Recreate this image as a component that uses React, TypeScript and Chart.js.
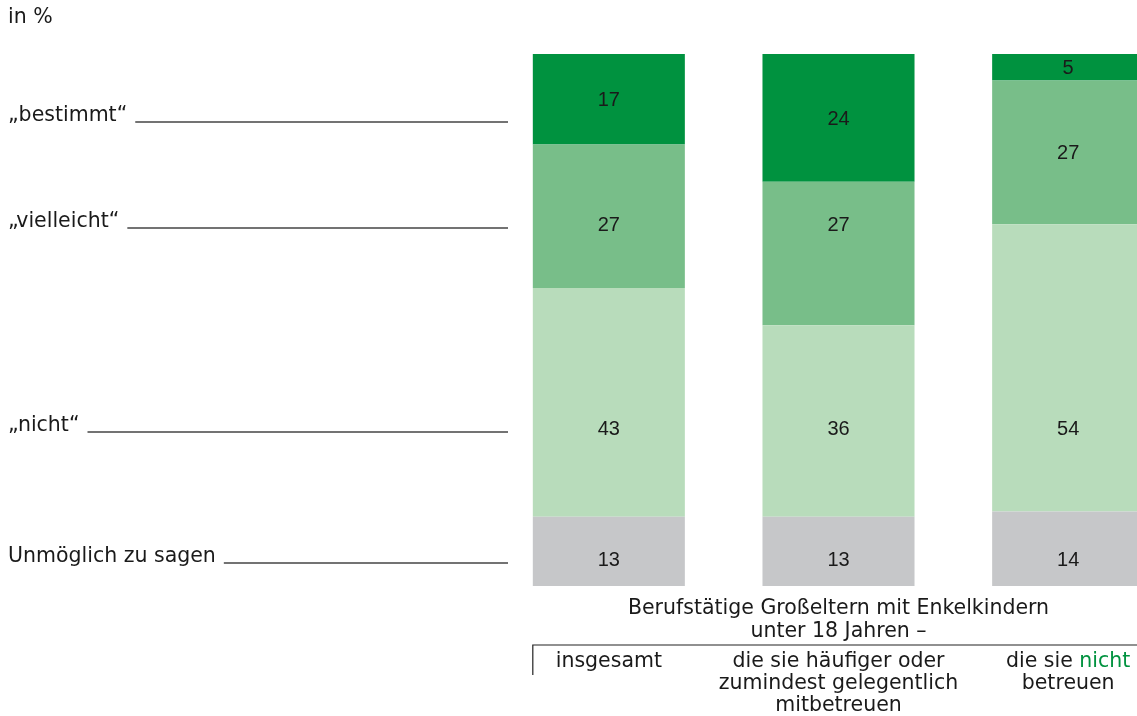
import React, { useEffect, useRef } from "react";
import { Chart, registerables } from "chart.js";

Chart.register(...registerables);

const categories = ["insgesamt", "mitbetreuen", "nicht betreuen"];
const categoryLabelLines: string[][] = [
  ["insgesamt"],
  ["die sie häufiger oder", "zumindest gelegentlich", "mitbetreuen"],
  ["die sie |nicht|", "betreuen"],
];
const seriesNames = ["Unmöglich zu sagen", "„nicht“", "„vielleicht“", "„bestimmt“"];
const unmoeglich = [13, 13, 14];
const nicht = [43, 36, 54];
const vielleicht = [27, 27, 27];
const bestimmt = [17, 24, 5];
const seriesColors = ["#c6c7c9", "#b8dcbb", "#78be89", "#00923f"];
const titleLines = ["Berufstätige Großeltern mit Enkelkindern", "unter 18 Jahren –"];
const unitLabel = "in %";
// y positions of the leader lines of the left-hand legend (layout only)
const legendLineY = [563, 432, 228, 122];

const FONT = "20.5px 'DejaVu Sans', 'Liberation Sans', sans-serif";
const NUM_FONT = "20px 'Liberation Sans Narrow', 'Liberation Sans', sans-serif";
const TEXT = "#1a1a1a";
const GREEN = "#00923f";

const annotations = {
  id: "annotations",
  afterDatasetsDraw(chart: any) {
    const ctx = chart.ctx as CanvasRenderingContext2D;
    ctx.save();
    ctx.font = NUM_FONT;
    ctx.fillStyle = TEXT;
    ctx.textAlign = "center";
    ctx.textBaseline = "middle";
    chart.data.datasets.forEach((ds: any, di: number) => {
      const meta = chart.getDatasetMeta(di);
      meta.data.forEach((el: any, i: number) => {
        const v = ds.data[i];
        const top = Math.min(el.y, el.base);
        const bottom = Math.max(el.y, el.base);
        const anchor = legendLineY[di] - 4;
        let y = (top + bottom) / 2;
        if (anchor >= top + 27 && anchor <= bottom - 27) y = anchor;
        ctx.fillText(String(v), el.x, y + 1);
      });
    });
    ctx.restore();
  },
  afterDraw(chart: any) {
    const ctx = chart.ctx as CanvasRenderingContext2D;
    const xs = chart.scales.x;
    ctx.save();
    ctx.font = FONT;
    ctx.fillStyle = TEXT;
    ctx.textBaseline = "middle";
    ctx.textAlign = "left";
    ctx.fillText(unitLabel, 8, 18);

    // left legend with leader lines
    const lineEnd = 508;
    seriesNames.forEach((name, i) => {
      const y = legendLineY[i];
      ctx.textBaseline = "alphabetic";
      ctx.fillStyle = TEXT;
      ctx.fillText(name, 8, y - 1);
      const w = ctx.measureText(name).width;
      ctx.strokeStyle = "#444";
      ctx.lineWidth = 1.3;
      ctx.beginPath();
      ctx.moveTo(8 + w + 8, y);
      ctx.lineTo(lineEnd, y);
      ctx.stroke();
    });

    // bottom title
    const x0 = xs.getPixelForValue(0);
    const x1 = xs.getPixelForValue(1);
    const x2 = xs.getPixelForValue(2);
    ctx.textAlign = "center";
    ctx.textBaseline = "middle";
    ctx.fillStyle = TEXT;
    titleLines.forEach((t, i) => ctx.fillText(t, x1, 609 + i * 23));

    // bracket line
    const el0 = chart.getDatasetMeta(0).data[0];
    const barLeft = el0.x - el0.width / 2;
    ctx.strokeStyle = "#222";
    ctx.lineWidth = 1.2;
    ctx.beginPath();
    ctx.moveTo(barLeft, 675);
    ctx.lineTo(barLeft, 645);
    ctx.lineTo(chart.width, 645);
    ctx.stroke();

    // category labels
    const centers = [x0, x1, x2];
    categoryLabelLines.forEach((lines, ci) => {
      lines.forEach((line, li) => {
        const y = 662 + li * 22;
        const parts = line.split("|");
        if (parts.length === 1) {
          ctx.textAlign = "center";
          ctx.fillStyle = TEXT;
          ctx.fillText(line, centers[ci], y);
        } else {
          const total = parts.reduce((s, p) => s + ctx.measureText(p).width, 0);
          let x = centers[ci] - total / 2;
          ctx.textAlign = "left";
          parts.forEach((p, pi) => {
            ctx.fillStyle = pi % 2 === 1 ? GREEN : TEXT;
            ctx.fillText(p, x, y);
            x += ctx.measureText(p).width;
          });
        }
      });
    });
    ctx.restore();
  },
};

export default function App() {
  const ref = useRef<HTMLCanvasElement | null>(null);
  useEffect(() => {
    document.body.style.margin = "0";
    document.body.style.overflow = "hidden";
    const canvas = ref.current!;
    const chart = new Chart(canvas, {
      type: "bar",
      data: {
        labels: categories,
        datasets: [unmoeglich, nicht, vielleicht, bestimmt].map((d, i) => ({
          label: seriesNames[i],
          data: d,
          backgroundColor: seriesColors[i],
          borderWidth: 0,
          barPercentage: 1,
          categoryPercentage: 0.662,
        })),
      },
      options: {
        responsive: false,
        animation: false,
        events: [],
        layout: { padding: { left: 494, right: 7, top: 54, bottom: 130 } },
        plugins: { legend: { display: false }, tooltip: { enabled: false } },
        scales: {
          x: { stacked: true, display: false },
          y: { stacked: true, display: false, min: 0, max: 100 },
        },
      },
      plugins: [annotations],
    });
    return () => chart.destroy();
  }, []);
  return (
    <div style={{ position: "fixed", left: 0, top: 0, width: 1137, height: 716, overflow: "hidden", background: "#fff" }}>
      <canvas ref={ref} width={1190} height={716} style={{ display: "block" }} />
    </div>
  );
}
